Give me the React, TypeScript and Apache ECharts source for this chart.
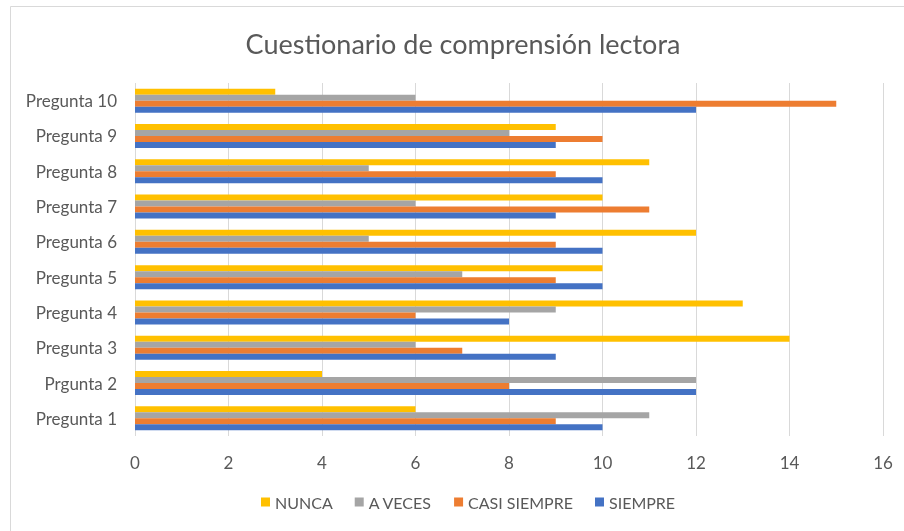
import React, { useEffect, useRef } from "react";
import * as echarts from "echarts";

const categories = [
  "Pregunta 1",
  "Prgunta 2",
  "Pregunta 3",
  "Pregunta 4",
  "Pregunta 5",
  "Pregunta 6",
  "Pregunta 7",
  "Pregunta 8",
  "Pregunta 9",
  "Pregunta 10",
];
const nunca = [6, 4, 14, 13, 10, 12, 10, 11, 9, 3];
const aVeces = [11, 12, 6, 9, 7, 5, 6, 5, 8, 6];
const casiSiempre = [9, 8, 7, 6, 9, 9, 11, 9, 10, 15];
const siempre = [10, 12, 9, 8, 10, 10, 9, 10, 9, 12];
const xTicks = { min: 0, max: 16, interval: 2 };

const FONT = "Lato, 'Open Sans', sans-serif";

export default function App() {
  const ref = useRef<HTMLDivElement>(null);
  useEffect(() => {
    document.body.style.margin = "0";
    const chart = echarts.init(ref.current!, undefined, { renderer: "svg" });
    const mk = (name: string, data: number[], color: string) => ({
      name,
      type: "bar",
      data,
      barGap: "0%",
      barCategoryGap: "32%",
      itemStyle: { color },
    });
    chart.setOption({
      animation: false,
      textStyle: { fontFamily: FONT },
      graphic: [
        {
          type: "rect",
          shape: { x: 10.5, y: 6.5, width: 1000, height: 600 },
          style: { fill: "none", stroke: "#D9D9D9", lineWidth: 1 },
          silent: true,
        },
        {
          type: "text",
          x: 463,
          y: 43,
          style: {
            text: "Cuestionario de comprensión lectora",
            fontFamily: FONT,
            fontSize: 27,
            fill: "#595959",
            align: "center",
            verticalAlign: "middle",
          },
          silent: true,
        },
      ],
      legend: {
        data: ["NUNCA", "A VECES", "CASI SIEMPRE", "SIEMPRE"],
        left: 256,
        top: 489,
        icon: "rect",
        itemWidth: 9,
        itemHeight: 9,
        itemGap: 22,
        textStyle: { fontFamily: FONT, fontSize: 16, color: "#595959" },
      },
      grid: { left: 135, right: 21, top: 83, bottom: 95 },
      xAxis: {
        type: "value",
        min: xTicks.min,
        max: xTicks.max,
        interval: xTicks.interval,
        axisLine: { show: false },
        axisTick: { show: false },
        axisLabel: { margin: 18, fontSize: 17, color: "#595959", fontFamily: FONT },
        splitLine: { lineStyle: { color: "#D9D9D9", width: 1 } },
      },
      yAxis: {
        type: "category",
        data: categories,
        axisLine: { show: false },
        axisTick: { show: false },
        axisLabel: { margin: 18, fontSize: 17, color: "#595959", fontFamily: FONT },
      },
      series: [
        mk("NUNCA", nunca, "#FFC000"),
        mk("A VECES", aVeces, "#A5A5A5"),
        mk("CASI SIEMPRE", casiSiempre, "#ED7D31"),
        mk("SIEMPRE", siempre, "#4472C4"),
      ],
    });
    return () => chart.dispose();
  }, []);
  return <div ref={ref} style={{ position: "fixed", left: 0, top: 0, width: 904, height: 531 }} />;
}
